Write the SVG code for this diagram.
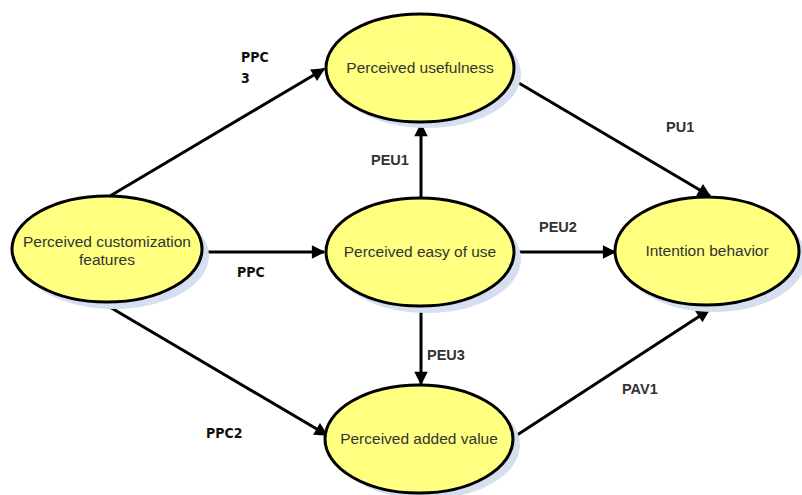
<svg xmlns="http://www.w3.org/2000/svg" width="802" height="495" viewBox="0 0 802 495">
<style>
.shadow{fill:#d6dff0}
.node{fill:#ffff80;stroke:#000;stroke-width:3}
.nt{font-family:"Liberation Sans",Arial,sans-serif;font-size:15.5px;fill:#333;text-anchor:middle}
.lbl{font-family:"Liberation Sans",Arial,sans-serif;font-size:14.5px;font-weight:bold;fill:#333}
.lbc{font-family:"DejaVu Sans Condensed","DejaVu Sans",sans-serif;font-stretch:condensed;font-size:14px;font-weight:bold;fill:#111}
.edge{stroke:#000;stroke-width:3;fill:none;marker-end:url(#ah)}
</style>
<defs>
<marker id="ah" viewBox="0 0 10 10" refX="9" refY="5" markerWidth="6" markerHeight="4.5" markerUnits="strokeWidth" orient="auto">
<path d="M0,0 L10,5 L0,10 z" fill="#000"/>
</marker>
</defs>
<rect width="802" height="495" fill="#fff"/>
<g id="connectors">
<line class="edge" x1="110" y1="196" x2="324" y2="69"/>
<line class="edge" x1="202" y1="252" x2="324" y2="252"/>
<line class="edge" x1="108" y1="306" x2="327" y2="435"/>
<line class="edge" x1="421" y1="199" x2="421" y2="124"/>
<line class="edge" x1="512" y1="252" x2="615" y2="252"/>
<line class="edge" x1="421" y1="306" x2="421" y2="384"/>
<line class="edge" x1="512" y1="79" x2="710" y2="196"/>
<line class="edge" x1="514" y1="437" x2="709" y2="310"/>
</g>
<g id="n-pcf">
<ellipse class="shadow" cx="114" cy="256" rx="95" ry="53"/>
<ellipse class="node" cx="107" cy="249" rx="95" ry="53"/>
<text class="nt" x="107" y="247">Perceived customization</text>
<text class="nt" x="107" y="265">features</text>
</g>
<g id="n-pu">
<ellipse class="shadow" cx="427" cy="74" rx="94" ry="54"/>
<ellipse class="node" cx="420" cy="68" rx="94" ry="54"/>
<text class="nt" x="420" y="73">Perceived usefulness</text>
</g>
<g id="n-peu">
<ellipse class="shadow" cx="427" cy="259" rx="94" ry="54"/>
<ellipse class="node" cx="420" cy="252" rx="94" ry="54"/>
<text class="nt" x="420" y="257">Perceived easy of use</text>
</g>
<g id="n-ib">
<ellipse class="shadow" cx="714" cy="258" rx="92" ry="54"/>
<ellipse class="node" cx="707" cy="251" rx="92" ry="54"/>
<text class="nt" x="707" y="256">Intention behavior</text>
</g>
<g id="n-pav">
<ellipse class="shadow" cx="426" cy="445" rx="94" ry="54"/>
<ellipse class="node" cx="419" cy="439" rx="94" ry="54"/>
<text class="nt" x="419" y="444">Perceived added value</text>
</g>
<g id="labels">
<text class="lbc" x="241" y="62">PPC</text>
<text class="lbc" x="241" y="83">3</text>
<text class="lbc" x="237" y="277">PPC</text>
<text class="lbc" x="206" y="438">PPC2</text>
<text class="lbl" x="371" y="165">PEU1</text>
<text class="lbl" x="539" y="232">PEU2</text>
<text class="lbl" x="666" y="132">PU1</text>
<text class="lbl" x="427" y="360">PEU3</text>
<text class="lbl" x="622" y="394">PAV1</text>
</g>
</svg>
